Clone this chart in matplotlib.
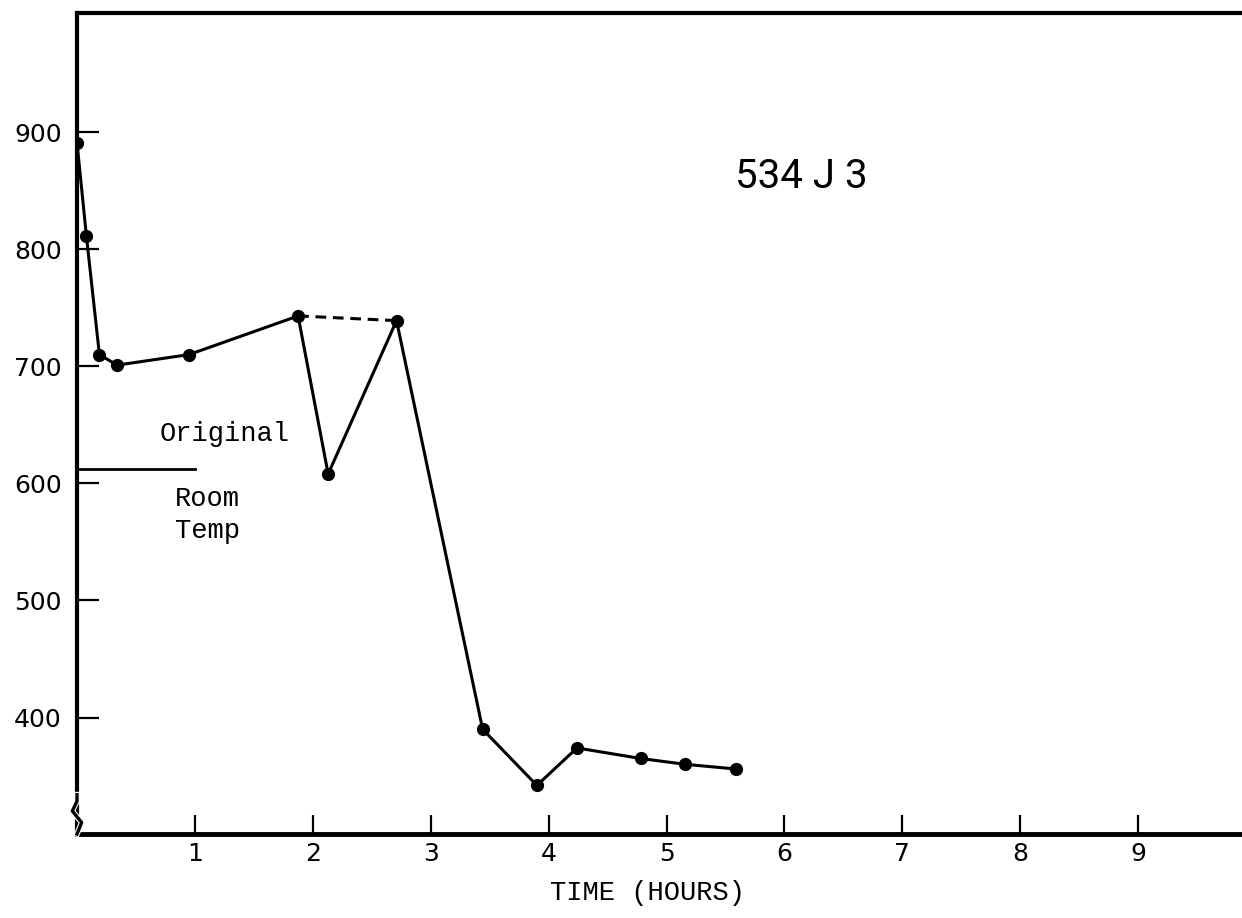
import matplotlib
matplotlib.use("Agg")
import matplotlib.pyplot as plt

# readings from chart 534 J3
hours = [0.0, 0.08, 0.19, 0.34, 0.95, 1.875, 2.13, 2.71, 3.44, 3.90, 4.24, 4.78, 5.16, 5.59]
temp = [891, 811, 710, 701, 710, 743, 608, 739, 390, 342, 374, 365, 360, 356]

dash_hours = [1.875, 2.71]
dash_temp = [743, 739]

room_temp = 612
room_span = [0.0, 1.0]

xticks = [1, 2, 3, 4, 5, 6, 7, 8, 9]
yticks = [400, 500, 600, 700, 800, 900]

typewriter = ["Liberation Mono", "DejaVu Sans Mono"]

fig = plt.figure(figsize=(12.42, 9.18), dpi=100)
ax = fig.add_axes([0.062, 0.0915, 0.938, 0.894])

ax.plot(hours, temp, color="black", lw=2.2, marker="o", ms=8.5, zorder=3)
ax.plot(dash_hours, dash_temp, color="black", lw=2.2, ls=(0, (3.5, 2.2)), zorder=2)
ax.plot(room_span, [room_temp, room_temp], color="black", lw=2.0)

ax.set_xlim(0, 9.88)
ax.set_ylim(300.5, 1001.5)

ax.set_xticks(xticks)
ax.set_yticks(yticks)
ax.tick_params(axis="y", direction="in", length=16, width=1.6, pad=11,
               labelsize=18, left=True, right=False)
ax.tick_params(axis="x", direction="in", length=14, width=1.6, pad=6,
               labelsize=18, top=False)
for lab in ax.get_xticklabels() + ax.get_yticklabels():
    lab.set_family("DejaVu Sans")

ax.spines["right"].set_visible(False)
ax.spines["left"].set_linewidth(3.0)
ax.spines["top"].set_linewidth(3.0)
ax.spines["bottom"].set_linewidth(3.5)

ax.text(0.70, 642, "Original", fontsize=19.5, family=typewriter, va="center", ha="left")
ax.text(0.83, 587, "Room", fontsize=19.5, family=typewriter, va="center", ha="left")
ax.text(0.83, 559, "Temp", fontsize=19.5, family=typewriter, va="center", ha="left")
ax.text(6.14, 862, "534 J 3", fontsize=29, family=["Roboto", "DejaVu Sans"],
        va="center", ha="center")

ax.text(0.49, -0.072, "TIME (HOURS)", transform=ax.transAxes, fontsize=19.5,
        family=typewriter, ha="center", va="center")

# axis break squiggle at the bottom of the y axis
bx = [0.0, 0.0, -0.004, 0.004, 0.0]
by = [0.048, 0.040, 0.028, 0.014, 0.0]
ax.plot(bx, by, transform=ax.transAxes, color="white", lw=4, clip_on=False, zorder=5)
ax.plot(bx, by, transform=ax.transAxes, color="black", lw=2.4, clip_on=False, zorder=6)

fig.savefig("out.png", dpi=100)
